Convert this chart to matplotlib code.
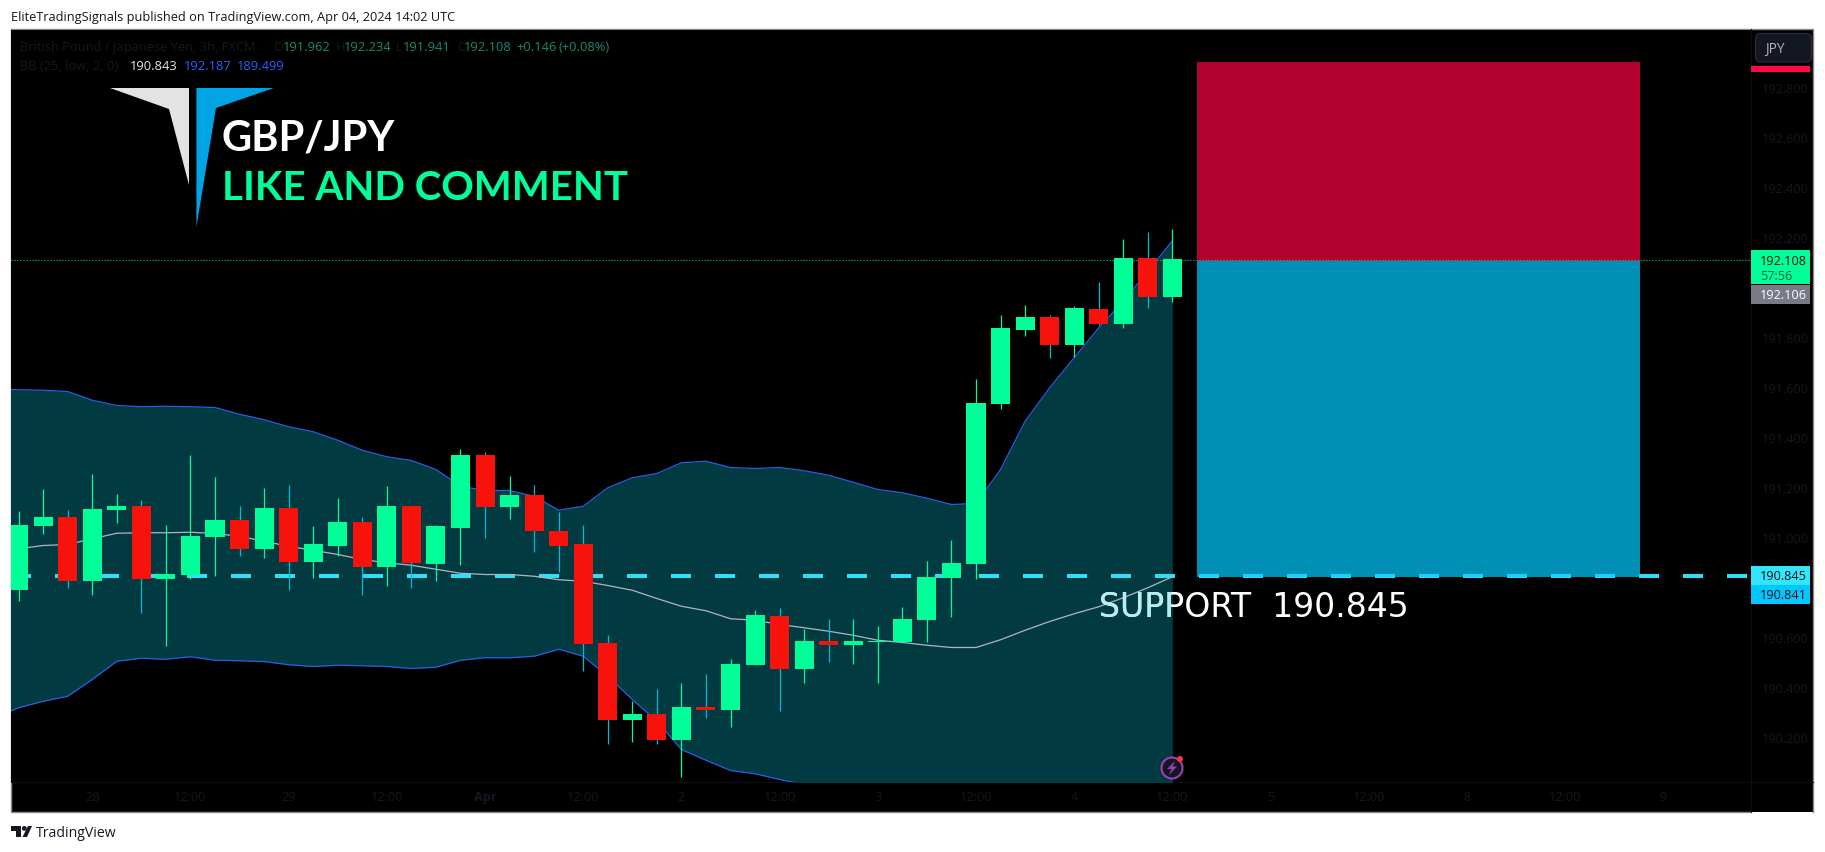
import numpy as np
import matplotlib
matplotlib.use("Agg")
import matplotlib.pyplot as plt
from matplotlib.patches import Rectangle, Polygon, Circle, FancyBboxPatch

plt.rcParams['font.family'] = ['Open Sans', 'DejaVu Sans']

# candles, prices
opens = [190.788, 191.044, 191.080, 190.824, 191.108, 191.124, 190.832, 190.848, 191.000, 191.068,
         190.952, 191.116, 190.900, 190.968, 191.060, 190.880, 191.124, 190.896, 191.040, 191.332,
         191.120, 191.168, 191.028, 190.972, 190.576, 190.268, 190.292, 190.188, 190.320, 190.308,
         190.488, 190.688, 190.472, 190.584, 190.568, 190.581, 190.580, 190.668, 190.836, 190.892,
         191.532, 191.832, 191.884, 191.768, 191.916, 191.852, 192.116, 191.960]
closes = [191.048, 191.080, 190.824, 191.112, 191.124, 190.832, 190.852, 191.004, 191.068, 190.952,
          191.116, 190.900, 190.972, 191.060, 190.880, 191.124, 190.896, 191.044, 191.332, 191.120,
          191.168, 191.024, 190.968, 190.572, 190.268, 190.292, 190.188, 190.320, 190.308, 190.492,
          190.688, 190.472, 190.584, 190.568, 190.584, 190.587, 190.672, 190.840, 190.896, 191.536,
          191.836, 191.884, 191.768, 191.916, 191.852, 192.116, 191.960, 192.112]
highs = [191.104, 191.192, 191.108, 191.252, 191.172, 191.148, 191.048, 191.328, 191.240, 191.128,
         191.196, 191.208, 191.044, 191.156, 191.080, 191.204, 191.128, 191.052, 191.352, 191.340,
         191.248, 191.208, 191.100, 191.048, 190.608, 190.344, 190.392, 190.416, 190.452, 190.512,
         190.712, 190.716, 190.632, 190.672, 190.672, 190.644, 190.720, 190.908, 190.992, 191.632,
         191.892, 191.932, 191.892, 191.928, 192.020, 192.192, 192.224, 192.236]
lows = [190.748, 191.016, 190.796, 190.768, 191.056, 190.700, 190.564, 190.832, 190.844, 190.924,
        190.920, 190.788, 190.836, 190.924, 190.768, 190.804, 190.796, 190.824, 190.888, 190.996,
        191.076, 190.940, 190.860, 190.464, 190.176, 190.180, 190.172, 190.040, 190.276, 190.240,
        190.488, 190.304, 190.420, 190.500, 190.492, 190.420, 190.580, 190.580, 190.680, 190.832,
        191.516, 191.804, 191.716, 191.724, 191.848, 191.836, 191.920, 191.944]

# bollinger bands, first value sits one bar left of the first candle
bb_upper = [191.595, 191.591, 191.589, 191.584, 191.549, 191.528, 191.523, 191.525, 191.523, 191.520,
            191.493, 191.471, 191.443, 191.423, 191.389, 191.349, 191.323, 191.308, 191.272, 191.205,
            191.188, 191.188, 191.165, 191.109, 191.125, 191.199, 191.239, 191.256, 191.299, 191.305,
            191.280, 191.276, 191.280, 191.267, 191.249, 191.221, 191.192, 191.179, 191.157, 191.132,
            191.136, 191.272, 191.465, 191.599, 191.719, 191.839, 191.945, 192.065, 192.187]
bb_mid = [190.945, 190.955, 190.968, 190.972, 190.995, 191.017, 191.019, 191.019, 191.021, 191.016,
          191.005, 190.985, 190.965, 190.949, 190.932, 190.912, 190.899, 190.889, 190.873, 190.857,
          190.852, 190.852, 190.845, 190.831, 190.825, 190.808, 190.789, 190.756, 190.725, 190.707,
          190.675, 190.669, 190.652, 190.639, 190.625, 190.609, 190.589, 190.580, 190.569, 190.560,
          190.560, 190.591, 190.629, 190.664, 190.695, 190.723, 190.759, 190.799, 190.843]
bb_lower = [190.279, 190.319, 190.345, 190.365, 190.432, 190.505, 190.517, 190.513, 190.523, 190.509,
            190.507, 190.504, 190.491, 190.484, 190.489, 190.487, 190.484, 190.476, 190.481, 190.509,
            190.519, 190.519, 190.525, 190.553, 190.525, 190.445, 190.352, 190.265, 190.152, 190.109,
            190.068, 190.055, 190.032, 190.012, 189.970, 189.930, 189.900, 189.870, 189.850, 189.830,
            189.800, 189.750, 189.700, 189.660, 189.620, 189.580, 189.550, 189.520, 189.499]

# short position box and levels
stop_price = 192.9
entry_price = 192.106
target_price = 190.841
box_bars = [48, 66.04]
support = 190.845
last_price = 192.108

price_ticks = [190.2, 190.4, 190.6, 191.0, 191.2, 191.4, 191.6, 191.8, 192.2, 192.4, 192.6, 192.8]
time_ticks = [3, 7, 11, 15, 19, 23, 27, 31, 35, 39, 43, 47, 51, 55, 59, 63, 67]
time_labels = ['28', '12:00', '29', '12:00', 'Apr', '12:00', '2', '12:00', '3', '12:00', '4', '12:00',
               '5', '12:00', '8', '12:00', '9']

GREEN = '#00ff98'
RED = '#f7120c'
WICK_DOWN = '#00bcd4'
FAINT = '#151821'

W, H = 1825, 853
fig = plt.figure(figsize=(W / 100, H / 100), dpi=100, facecolor='white')

# main price pane, 11..1751 px across and 30..783 px down
ax = fig.add_axes([11 / W, 1 - 783 / H, 1740 / W, 752.5 / H], facecolor='black')
ax.set_xlim(-0.31, 70.57)
ax.set_ylim(190.022, 193.032)
for s in ax.spines.values():
    s.set_visible(False)

bars = np.arange(len(opens))
band_x = np.arange(-1, len(opens))

ax.fill_between(band_x, bb_upper, bb_lower, color='#023a42', lw=0, zorder=1)
ax.plot(band_x, bb_upper, color='#2660e0', lw=0.9, zorder=2)
ax.plot(band_x, bb_lower, color='#2660e0', lw=0.9, zorder=2)

# trade box
stop_box = Rectangle((box_bars[0], entry_price), box_bars[1] - box_bars[0], stop_price - entry_price,
                     fc='#b2002f', lw=0, zorder=1)
target_box = Rectangle((box_bars[0], target_price), box_bars[1] - box_bars[0], entry_price - target_price,
                       fc='#008fb5', lw=0, zorder=1)
ax.add_patch(stop_box)
ax.add_patch(target_box)

# support line, a second copy makes it lighter over the blue box
for col, clip in (('#2ee0f5', None), ('#19cfff', target_box)):
    line, = ax.plot([-0.31, 70.57], [support, support], color=col, lw=2.88,
                    dashes=(5, 6), dash_capstyle='butt', zorder=3)
    if clip is not None:
        line.set_clip_path(clip)

ax.plot(band_x, bb_mid, color='#b2b5be', lw=0.9, zorder=4)

ax.plot([-0.31, 70.57], [last_price, last_price], color=GREEN, lw=0.72,
        dashes=(1, 2), zorder=4)

up = np.array(closes) >= np.array(opens)
ax.vlines(bars[up], np.array(lows)[up], np.array(highs)[up], color=GREEN, lw=0.9, zorder=5)
ax.vlines(bars[~up], np.array(lows)[~up], np.array(highs)[~up], color=WICK_DOWN, lw=0.9, zorder=5)
body = np.array(closes) - np.array(opens)
ax.bar(bars, body, bottom=opens, width=0.775, color=[GREEN if u else RED for u in up], lw=0, zorder=6)

ax.yaxis.tick_right()
ax.set_yticks(price_ticks, ['%.3f' % p for p in price_ticks])
ax.set_xticks(time_ticks, time_labels)
ax.tick_params(axis='y', length=0, pad=8, labelsize=9.1, labelcolor=FAINT)
ax.tick_params(axis='x', length=0, pad=6, labelsize=9.2, labelcolor=FAINT)
ax.get_xticklabels()[4].set_fontweight('bold')
ax.grid(False)

# pixel overlay for the frame and everything that is not chart data
ov = fig.add_axes([0, 0, 1, 1], facecolor='none', zorder=5)
ov.set_xlim(0, W)
ov.set_ylim(H, 0)
ov.axis('off')
back = fig.add_axes([0, 0, 1, 1], facecolor='none', zorder=-1)
back.set_xlim(0, W)
back.set_ylim(H, 0)
back.axis('off')
back.add_patch(Rectangle((11, 30), 1802, 783, fc='black', lw=0))
back.plot([11, 1813, 1813], [30, 30, 813], color='#8a8a8e', lw=1.0)
back.plot([11, 11, 1751], [30, 813, 813], color='#8a8a8e', lw=1.0)
back.plot([11, 1813], [783, 783], color='#0c0e13', lw=0.8, zorder=3)
back.plot([1751, 1751], [30, 813], color='#0c0e13', lw=0.8, zorder=3)

ov.text(11, 17, 'EliteTradingSignals published on TradingView.com, Apr 04, 2024 14:02 UTC',
        fontsize=9.2, color='#131722', va='center')

# status lines
TEAL = '#148c74'
ov.text(20, 47, 'British Pound / Japanese Yen, 3h, FXCM', fontsize=9.3, color=FAINT, va='center')
for x, lab, col in [(273, 'O', FAINT), (282.5, '191.962', TEAL), (336, 'H', FAINT), (344, '192.234', TEAL),
                    (396, 'L', FAINT), (403, '191.941', TEAL), (457, 'C', FAINT), (464, '192.108', TEAL),
                    (516.5, '+0.146', TEAL), (559, '(+0.08%)', TEAL)]:
    ov.text(x, 47, lab, fontsize=9.3, color=col, va='center')
ov.text(20, 66, 'BB (25, low, 2, 0)', fontsize=9.3, color=FAINT, va='center')
for x, lab, col in [(130, '190.843', '#e8e8e8'), (183.5, '192.187', '#2962ff'), (236.5, '189.499', '#2962ff')]:
    ov.text(x, 66, lab, fontsize=9.3, color=col, va='center')

# logo
ov.add_patch(Polygon([(110, 89), (189, 89), (189, 186), (169, 110)], fc='#e3e3e3', lw=0))
ov.add_patch(Polygon([(196.4, 89), (273.7, 89), (216, 109), (196.4, 228)], fc='#00a4e4', lw=0))
ov.text(222, 150, 'GBP/JPY', fontsize=30, color='white', va='baseline', fontweight='bold', family='Lato')
ov.text(222, 200, 'LIKE AND COMMENT', fontsize=29, color=GREEN, va='baseline', fontweight='bold', family='Lato')

# support label, paler where it crosses the band
sup_txt = 'SUPPORT  190.845'
ov.text(1099, 617, sup_txt, fontsize=23.9, color='white', va='baseline', family='DejaVu Sans')
sup2 = ov.text(1099, 617, sup_txt, fontsize=23.9, color='#b4eef3', va='baseline', family='DejaVu Sans', clip_on=True)
sup2.set_clip_path(Rectangle((1000, 560), 172, 80, transform=ov.transData))

# price scale labels
ov.add_patch(FancyBboxPatch((1755.5, 34.5), 56, 28.5, boxstyle='round,pad=0,rounding_size=5', fc='#131722', ec='#2a2e39', lw=0.8))
ov.text(1765, 49, 'JPY', fontsize=9.8, color='#b2b5be', va='center')
ov.add_patch(Rectangle((1751, 67), 59, 6, fc='#ff0a46', lw=0))
ov.add_patch(Rectangle((1751, 251), 59, 34, fc=GREEN, lw=0))
ov.text(1760, 261, '192.108', fontsize=9.1, color='#111111', va='center')
ov.text(1760, 276, '57:56', fontsize=9.1, color='#0a5a3e', va='center')
ov.add_patch(Rectangle((1751, 286), 59, 19, fc='#787b86', lw=0))
ov.text(1760, 295.5, '192.106', fontsize=9.1, color='white', va='center')
ov.add_patch(Rectangle((1751, 567), 59, 19, fc='#33e5ff', lw=0))
ov.text(1760, 577, '190.845', fontsize=9.1, color='#111111', va='center')
ov.add_patch(Rectangle((1751, 586), 59, 19, fc='#00c8ff', lw=0))
ov.text(1760, 595.5, '190.841', fontsize=9.1, color='#111111', va='center')

# replay icon
ov.add_patch(Circle((1172, 769), 10.5, fc='#131722', ec='#9c3fb5', lw=1.5))
ov.add_patch(Polygon([(1175, 762), (1167, 770), (1171.5, 770), (1169, 776), (1177, 767.5), (1172.5, 767.5)], fc='#9c3fb5', lw=0))
ov.add_patch(Circle((1180, 760), 3, fc='#f23645', lw=0))

# tradingview mark
ov.add_patch(Polygon([(11.5, 827), (21, 827), (21, 838), (16, 838), (16, 832), (11.5, 832)], fc='#131722', lw=0))
ov.add_patch(Circle((24.3, 829.4), 2.4, fc='#131722', lw=0))
ov.add_patch(Polygon([(28, 827), (32, 827), (27, 838), (22.5, 838)], fc='#131722', lw=0))
ov.text(35.5, 833.5, 'TradingView', fontsize=10.1, color='#131722', va='center')

fig.savefig('out.png', dpi=100, facecolor='white')
